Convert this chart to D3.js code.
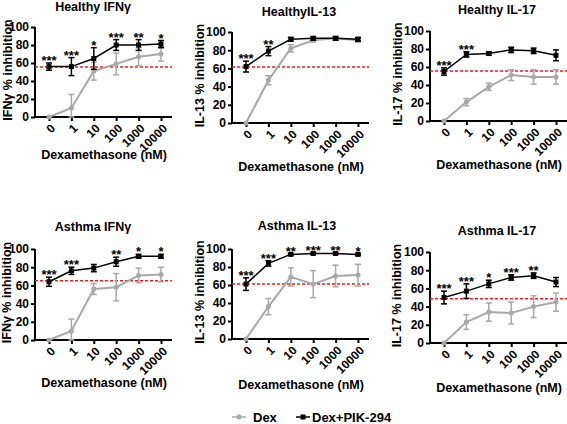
<!DOCTYPE html>
<html><head><meta charset="utf-8">
<script src="https://cdn.jsdelivr.net/npm/d3@7"></script>
<style>
html,body{margin:0;padding:0;background:#fff;}
text{font-family:"Liberation Sans",Arial,Helvetica,sans-serif;font-weight:bold;}
</style></head>
<body>
<svg id="chart" width="567" height="424"></svg>
<script>
// ---- data ----
const categories = ["0", "1", "10", "100", "1000", "10000"];
const yTicks = [0, 20, 40, 60, 80, 100];
const panelTitles = ["Healthy IFNγ", "HealthyIL-13", "Healthy IL-17", "Asthma IFNγ", "Asthma IL-13", "Asthma IL-17"];
const yTitles = ["IFNγ % inhibition", "IL-13 % inhibition", "IL-17 % inhibition", "IFNγ % inhibition", "IL-13 % inhibition", "IL-17 % inhibition"];
const xTitle = "Dexamethasone (nM)";
const seriesNames = ["Dex", "Dex+PIK-294"];

const dexMean = [
  [0, 10, 51, 59, 67, 70],
  [0, 47, 82, 91, 93, 91],
  [0, 21, 38, 51, 49, 49],
  [0, 10, 56, 58, 71, 72],
  [0, 36, 69, 61, 70, 71],
  [0, 23, 34, 33, 40, 45]
];
const dexErr = [
  [0, 15, 10, 12, 10, 8],
  [0, 5, 4, 2, 2, 2],
  [0, 4, 4, 6, 8, 8],
  [0, 13, 6, 15, 8, 8],
  [0, 9, 10, 15, 12, 12],
  [0, 8, 10, 12, 12, 10]
];
const pikMean = [
  [56, 56, 65, 80, 80, 81],
  [62, 79, 92, 93, 93, 92],
  [55, 74, 75, 79, 78, 73],
  [64, 76, 79, 86, 92, 92],
  [61, 84, 94, 95, 95, 94],
  [50, 57, 65, 72, 74, 67]
];
const pikErr = [
  [4, 10, 12, 6, 6, 4],
  [6, 5, 2, 2, 2, 2],
  [4, 3, 2, 3, 3, 6],
  [5, 4, 4, 5, 2, 2],
  [7, 3, 1, 1, 1, 1],
  [7, 8, 4, 3, 3, 5]
];
const stars = [
  ["***", "***", "*", "***", "**", "*"],
  ["***", "**", "", "", "", ""],
  ["***", "***", "", "", "", ""],
  ["***", "***", "", "**", "*", "*"],
  ["***", "***", "**", "***", "**", "*"],
  ["***", "***", "*", "***", "**", ""]
];
const thresholds = [55.5, 61.5, 55.5, 65, 61, 48.5];

// ---- layout (positions only) ----
const layout = [
  {ax: 35,  top: 27,  bot: 117, titleY: 11,  titleX: 93,  xtY: 159, ytX: 8},
  {ax: 232, top: 32,  bot: 123, titleY: 16,  titleX: 299, xtY: 171, ytX: 200},
  {ax: 430, top: 31,  bot: 121, titleY: 14,  titleX: 497, xtY: 169, ytX: 398},
  {ax: 35,  top: 249, bot: 340, titleY: 231, titleX: 93,  xtY: 387, ytX: 7},
  {ax: 232, top: 249, bot: 339, titleY: 230, titleX: 297, xtY: 389, ytX: 200},
  {ax: 430, top: 252, bot: 343, titleY: 235, titleX: 497, xtY: 392, ytX: 397}
];
const GREY = "#a8a8a8";
const RED = "#ee1c1c";

const svg = d3.select("#chart");

layout.forEach((L, i) => {
  const g = svg.append("g");
  const x = d3.scalePoint().domain(categories).range([L.ax + 14, L.ax + 126]);
  const y = d3.scaleLinear().domain([0, 100]).range([L.bot, L.top]);
  const xEnd = L.ax + 137;

  // y axis
  const yAxis = d3.axisLeft(y).tickValues(yTicks).tickSize(4).tickPadding(2);
  const ya = g.append("g").attr("transform", `translate(${L.ax},0)`).call(yAxis);
  ya.select(".domain").attr("stroke-width", 2).attr("d", `M0,${L.bot}V${L.top}`);
  ya.selectAll(".tick line").attr("stroke-width", 2);
  ya.selectAll(".tick text").attr("font-size", 12).attr("font-weight", "bold")
    .attr("font-family", '"Liberation Sans",Arial,sans-serif');

  // x axis
  const xAxis = d3.axisBottom(x).tickSize(4).tickFormat("");
  const xa = g.append("g").attr("transform", `translate(0,${L.bot})`).call(xAxis);
  xa.select(".domain").attr("stroke-width", 2).attr("d", `M${L.ax},0H${xEnd}`);
  xa.selectAll(".tick line").attr("stroke-width", 2);
  g.selectAll(".xlab").data(categories).enter().append("text")
    .attr("transform", d => `translate(${x(d) + 4},${L.bot + 9}) rotate(-45)`)
    .attr("text-anchor", "end").attr("dy", "0.35em")
    .attr("font-size", 12).text(d => d);

  // threshold
  g.append("line").attr("x1", L.ax).attr("x2", xEnd)
    .attr("y1", y(thresholds[i])).attr("y2", y(thresholds[i]))
    .attr("stroke", RED).attr("stroke-width", 1.5).attr("stroke-dasharray", "3,2");

  // series
  const series = [
    {m: dexMean[i], e: dexErr[i], color: GREY, lw: 2, shape: "circle"},
    {m: pikMean[i], e: pikErr[i], color: "#000", lw: 1.5, shape: "square"}
  ];
  series.forEach(s => {
    const pts = categories.map((c, k) => ({c, v: s.m[k], e: s.e[k]}));
    g.append("path").datum(pts)
      .attr("d", d3.line().x(d => x(d.c)).y(d => y(d.v)))
      .attr("fill", "none").attr("stroke", s.color).attr("stroke-width", s.lw);
    const eb = g.append("g").attr("stroke", s.color).attr("stroke-width", 1.5);
    pts.filter(d => d.e > 0).forEach(d => {
      const hi = y(Math.min(100, d.v + d.e)), lo = y(Math.max(0, d.v - d.e));
      eb.append("line").attr("x1", x(d.c)).attr("x2", x(d.c)).attr("y1", hi).attr("y2", lo);
      eb.append("line").attr("x1", x(d.c) - 3).attr("x2", x(d.c) + 3).attr("y1", hi).attr("y2", hi);
      eb.append("line").attr("x1", x(d.c) - 3).attr("x2", x(d.c) + 3).attr("y1", lo).attr("y2", lo);
    });
    if (s.shape === "circle") {
      g.selectAll(null).data(pts).enter().append("circle")
        .attr("cx", d => x(d.c)).attr("cy", d => y(d.v)).attr("r", 2.5).attr("fill", s.color);
    } else {
      g.selectAll(null).data(pts).enter().append("rect")
        .attr("x", d => x(d.c) - 2.5).attr("y", d => y(d.v) - 2.5)
        .attr("width", 5).attr("height", 5).attr("fill", s.color);
    }
  });

  // significance stars
  g.selectAll(null).data(categories).enter().append("text")
    .attr("x", d => x(d)).attr("y", (d, k) => y(pikMean[i][k] + pikErr[i][k]) + 2)
    .attr("text-anchor", "middle").attr("font-size", 13).text((d, k) => stars[i][k]);

  // titles
  g.append("text").attr("x", L.titleX).attr("y", L.titleY).attr("text-anchor", "middle")
    .attr("font-size", 12.5).text(panelTitles[i]);
  g.append("text").attr("x", L.ax + 69).attr("y", L.xtY).attr("text-anchor", "middle")
    .attr("font-size", 12.5).text(xTitle);
  g.append("text").attr("transform", `translate(${L.ytX},${(L.top + L.bot) / 2 - 2}) rotate(-90)`)
    .attr("text-anchor", "middle").attr("dy", "0.35em").attr("font-size", 12.5).text(yTitles[i]);
});

// legend
const leg = svg.append("g");
const legItems = [
  {name: seriesNames[0], cx: 239, tx: 253, color: GREY, shape: "circle"},
  {name: seriesNames[1], cx: 303, tx: 312, color: "#000", shape: "square"}
];
legItems.forEach(it => {
  leg.append("line").attr("x1", it.cx - 7).attr("x2", it.cx + 7).attr("y1", 417).attr("y2", 417)
    .attr("stroke", it.color).attr("stroke-width", 1.5);
  if (it.shape === "circle") leg.append("circle").attr("cx", it.cx).attr("cy", 417).attr("r", 2.5).attr("fill", it.color);
  else leg.append("rect").attr("x", it.cx - 2.5).attr("y", 414.5).attr("width", 5).attr("height", 5).attr("fill", it.color);
  leg.append("text").attr("x", it.tx).attr("y", 417).attr("dy", "0.35em").attr("font-size", 13).text(it.name);
});
</script>
</body></html>
